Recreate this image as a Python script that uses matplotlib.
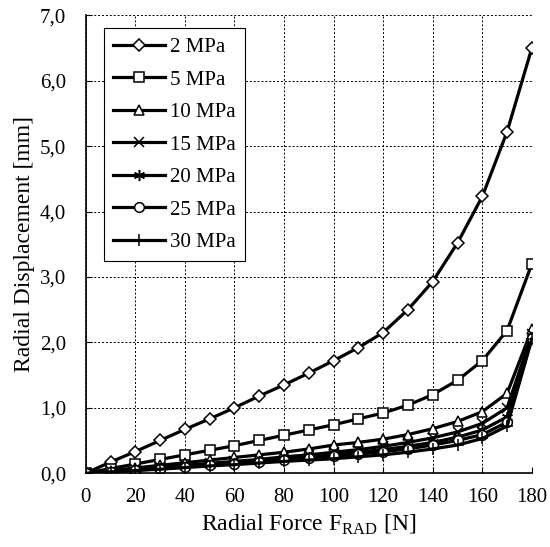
import matplotlib
matplotlib.use('Agg')
import matplotlib.pyplot as plt
import numpy as np

plt.rcParams['font.family'] = ['Liberation Serif', 'DejaVu Serif']
plt.rcParams['mathtext.fontset'] = 'custom'
plt.rcParams['mathtext.rm'] = 'Liberation Serif'

force = [0, 10, 20, 30, 40, 50, 60, 70, 80, 90, 100, 110, 120, 130, 140, 150, 160, 170, 180]

p2 = [0, 0.17, 0.33, 0.50, 0.67, 0.83, 1.00, 1.18, 1.35, 1.53, 1.72, 1.92, 2.15, 2.50, 2.93, 3.52, 4.23, 5.22, 6.50]
p5 = [0, 0.07, 0.14, 0.21, 0.28, 0.35, 0.42, 0.50, 0.58, 0.66, 0.74, 0.83, 0.92, 1.04, 1.20, 1.42, 1.72, 2.18, 3.20]
p10 = [0, 0.04, 0.08, 0.12, 0.16, 0.20, 0.24, 0.28, 0.32, 0.37, 0.43, 0.47, 0.52, 0.59, 0.68, 0.79, 0.94, 1.22, 2.20]
p15 = [0, 0.03, 0.06, 0.09, 0.12, 0.15, 0.18, 0.21, 0.25, 0.28, 0.32, 0.36, 0.41, 0.47, 0.54, 0.63, 0.76, 1.00, 2.12]
p20 = [0, 0.025, 0.05, 0.075, 0.10, 0.13, 0.16, 0.19, 0.22, 0.25, 0.28, 0.32, 0.36, 0.41, 0.47, 0.55, 0.66, 0.86, 2.08]
p25 = [0, 0.02, 0.045, 0.07, 0.095, 0.12, 0.145, 0.17, 0.20, 0.23, 0.26, 0.29, 0.33, 0.37, 0.43, 0.50, 0.59, 0.78, 2.06]
p30 = [0, 0.02, 0.04, 0.06, 0.085, 0.11, 0.13, 0.155, 0.18, 0.20, 0.22, 0.25, 0.28, 0.32, 0.37, 0.43, 0.53, 0.72, 2.05]

labels = ['2 MPa', '5 MPa', '10 MPa', '15 MPa', '20 MPa', '25 MPa', '30 MPa']
series = [p2, p5, p10, p15, p20, p25, p30]
markers = ['D', 's', '^', 'x', (6, 2, 0), 'o', '+']
msizes = [6, 7, 7, 7, 8, 7, 9]

fig = plt.figure(figsize=(5.5, 5.47), dpi=100)
ax = fig.add_axes([0.156, 0.135, 0.811, 0.837])

for lab, vals, m, ms in zip(labels, series, markers, msizes):
    ax.plot(force, vals, color='black', lw=2.3, marker=m, ms=ms,
            mfc='white', mec='black', mew=1.1, label=lab)

ax.set_xlim(0, 180)
ax.set_ylim(0, 7)
ax.set_xticks(np.arange(0, 181, 20))
ax.set_yticks(np.arange(0, 7.1, 1))
ax.set_yticklabels([f'{v:.1f}'.replace('.', ',') for v in np.arange(0, 7.1, 1)])
ax.tick_params(direction='in', labelsize=15, length=4, color='black')
ax.tick_params(axis='x', pad=11)
ax.tick_params(axis='y', pad=14)
ax.grid(True, color='black', ls=(0, (2, 2)), lw=0.7)
ax.spines['top'].set_visible(False)
ax.spines['right'].set_visible(False)
for s in ['left', 'bottom']:
    ax.spines[s].set_linewidth(1.2)

ax.set_xlabel(r'Radial Force F$_{\mathrm{RAD}}$ [N]', fontsize=17, labelpad=4)
ax.set_ylabel('Radial Displacement [mm]', fontsize=17, labelpad=4)

leg = ax.legend(loc='upper left', bbox_to_anchor=(0.04, 0.972), fontsize=15,
                frameon=True, fancybox=False, edgecolor='black', framealpha=1,
                handlelength=2.5, labelspacing=0.62, borderpad=0.45,
                handletextpad=0.25, borderaxespad=0)
leg.get_frame().set_linewidth(0.8)

fig.savefig('out.png', dpi=100)
